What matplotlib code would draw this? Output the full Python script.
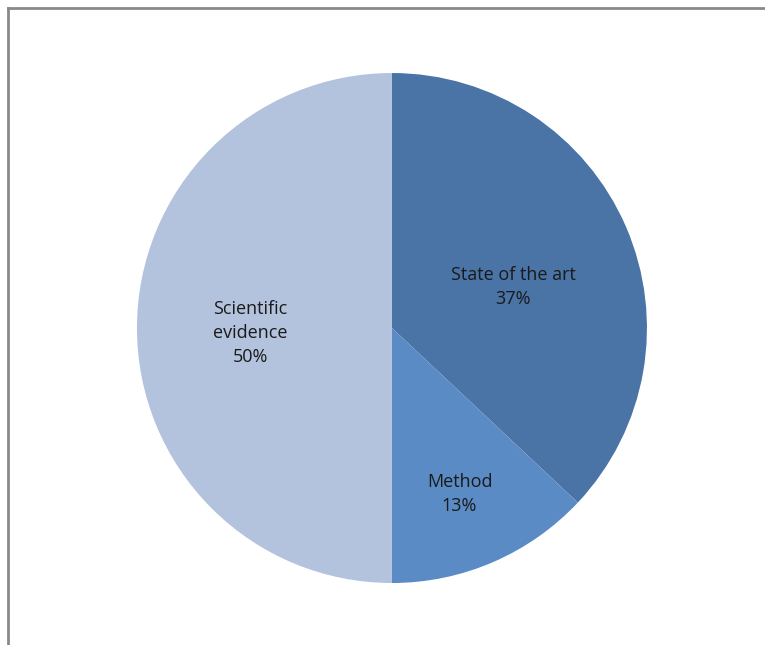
import matplotlib.pyplot as plt
from matplotlib.lines import Line2D

# 데이터
labels = ['State of the art', 'Method', 'Scientific\nevidence']
shares = [37, 13, 50]
colors = ['#4a73a6', '#5a8bc5', '#b3c3de']
# 라벨 위치 (반지름 1 기준)
label_pos = [(0.475, 0.16), (0.265, -0.65), (-0.555, -0.02)]

fig = plt.figure(figsize=(7.65, 6.45), dpi=100)
ax = fig.add_axes([0.179, 0.0961, 0.6667, 0.7907])

wedges, _ = ax.pie(shares, colors=colors, startangle=90, counterclock=False,
                   radius=1, wedgeprops=dict(linewidth=0))
ax.set_xlim(-1, 1)
ax.set_ylim(-1, 1)
ax.set_aspect('equal')

for lab, val, (x, y) in zip(labels, shares, label_pos):
    ax.text(x, y, f'{lab}\n{val}%', ha='center', va='center',
            fontsize=13, color='#1a1a1a', family='Open Sans', linespacing=1.45)

# 테두리 (위, 왼쪽만 보임)
ty = 1 - 7.5 / 645
lx = 7.5 / 765
fig.add_artist(Line2D([lx, 1], [ty, ty], color='#8a8a8a', linewidth=2,
                      transform=fig.transFigure))
fig.add_artist(Line2D([lx, lx], [0, ty], color='#8a8a8a', linewidth=2,
                      transform=fig.transFigure))

plt.savefig('out.png', dpi=100)
